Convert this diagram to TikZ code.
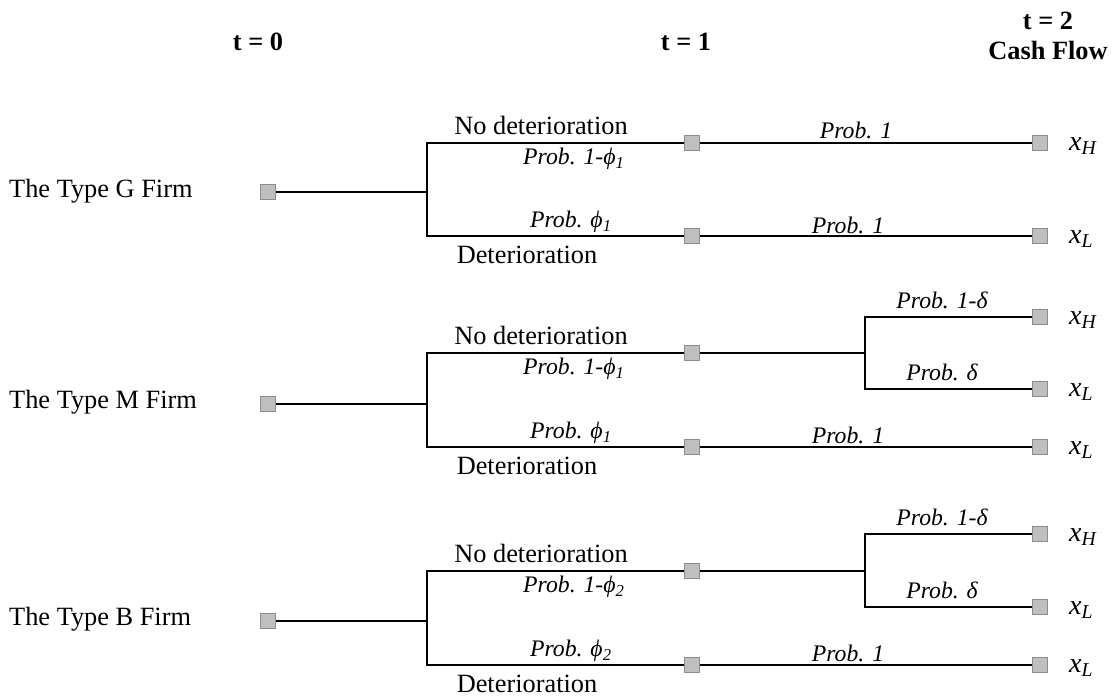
\documentclass[tikz,border=0pt]{standalone}
\usepackage{fontspec}
\setmainfont{Liberation Serif}
\usetikzlibrary{positioning}

\begin{document}
\begin{tikzpicture}[
        x=0.02cm, y=-0.02cm,
        leaf/.style={rectangle, draw=black!45, fill=black!25, line width=0.6pt, minimum size=0.3cm, inner sep=0pt},
        branch/.style={draw, line width=0.8pt},
        trunk/.style={draw, line width=1.2pt},
        head/.style={font=\fontsize{15}{17}\selectfont\bfseries},
        firm/.style={anchor=west, font=\fontsize{15}{17}\selectfont},
        event/.style={font=\fontsize{15}{17}\selectfont},
        prob/.style={font=\fontsize{13.5}{15}\selectfont\itshape},
        payoff/.style={anchor=base west, font=\fontsize{16}{18}\selectfont\itshape}
    ]
        \useasboundingbox (0,0) rectangle (1112,698);

        % Time line
        \node[head] (tzero) at (258,42) {t = 0};
        \node[head] (tone) at (686,42) {t = 1};
        \node[head] (ttwo) at (1048,21) {t = 2};
        \node[head] (cash) at (1048,50) {Cash Flow};

        % Type G
        \node[firm] (gfirm) at (3,191) {The Type G Firm};
        \node[leaf] (groot) at (268,192) {};
        \coordinate (gsplit) at (427,192);
        \node[leaf] (gup) at (692,143) {};
        \node[leaf] (gdown) at (692,236) {};
        \node[leaf] (gH) at (1040,143) {};
        \node[leaf] (gL) at (1040,236) {};
        \node[payoff] (gxH) at (1063,150) {x\textsubscript{H}};
        \node[payoff] (gxL) at (1063,243) {x\textsubscript{L}};

        \draw[trunk] (groot) -- (gsplit);
        \draw[branch] (gup) -| (gsplit) |- (gdown);
        \draw[branch] (gup) -- (gH);
        \draw[branch] (gdown) -- (gL);

        \node[event] at (541,125) {No deterioration};
        \node[prob] at (574,159) {Prob. 1-ϕ\textsubscript{1}};
        \node[prob] at (571,222) {Prob. ϕ\textsubscript{1}};
        \node[event] at (527,255) {Deterioration};
        \node[prob] at (856,130) {Prob. 1};
        \node[prob] at (848,225) {Prob. 1};

        % Type M
        \node[firm] (mfirm) at (3,402) {The Type M Firm};
        \node[leaf] (mroot) at (268,404) {};
        \coordinate (msplit) at (427,404);
        \node[leaf] (mup) at (692,353) {};
        \node[leaf] (mdown) at (692,447) {};
        \coordinate (mfork) at (865,353);
        \node[leaf] (mH) at (1040,317) {};
        \node[leaf] (mL) at (1040,389) {};
        \node[leaf] (mLL) at (1040,447) {};
        \node[payoff] (mxH) at (1063,324) {x\textsubscript{H}};
        \node[payoff] (mxL) at (1063,396) {x\textsubscript{L}};
        \node[payoff] (mxLL) at (1063,454) {x\textsubscript{L}};

        \draw[trunk] (mroot) -- (msplit);
        \draw[branch] (mup) -| (msplit) |- (mdown);
        \draw[branch] (mup) -- (mfork);
        \draw[branch] (mH) -| (mfork) |- (mL);
        \draw[branch] (mdown) -- (mLL);

        \node[event] at (541,335) {No deterioration};
        \node[prob] at (574,369) {Prob. 1-ϕ\textsubscript{1}};
        \node[prob] at (571,433) {Prob. ϕ\textsubscript{1}};
        \node[event] at (527,466) {Deterioration};
        \node[prob] at (942,300) {Prob. 1-δ};
        \node[prob] at (942,372) {Prob. δ};
        \node[prob] at (848,435) {Prob. 1};

        % Type B
        \node[firm] (bfirm) at (3,619) {The Type B Firm};
        \node[leaf] (broot) at (268,621) {};
        \coordinate (bsplit) at (427,621);
        \node[leaf] (bup) at (692,571) {};
        \node[leaf] (bdown) at (692,665) {};
        \coordinate (bfork) at (865,571);
        \node[leaf] (bH) at (1040,534) {};
        \node[leaf] (bL) at (1040,607) {};
        \node[leaf] (bLL) at (1040,665) {};
        \node[payoff] (bxH) at (1063,541) {x\textsubscript{H}};
        \node[payoff] (bxL) at (1063,614) {x\textsubscript{L}};
        \node[payoff] (bxLL) at (1063,672) {x\textsubscript{L}};

        \draw[trunk] (broot) -- (bsplit);
        \draw[branch] (bup) -| (bsplit) |- (bdown);
        \draw[branch] (bup) -- (bfork);
        \draw[branch] (bH) -| (bfork) |- (bL);
        \draw[branch] (bdown) -- (bLL);

        \node[event] at (541,553) {No deterioration};
        \node[prob] at (574,587) {Prob. 1-ϕ\textsubscript{2}};
        \node[prob] at (571,651) {Prob. ϕ\textsubscript{2}};
        \node[event] at (527,684) {Deterioration};
        \node[prob] at (942,517) {Prob. 1-δ};
        \node[prob] at (942,590) {Prob. δ};
        \node[prob] at (848,653) {Prob. 1};

    \end{tikzpicture}
\end{document}
